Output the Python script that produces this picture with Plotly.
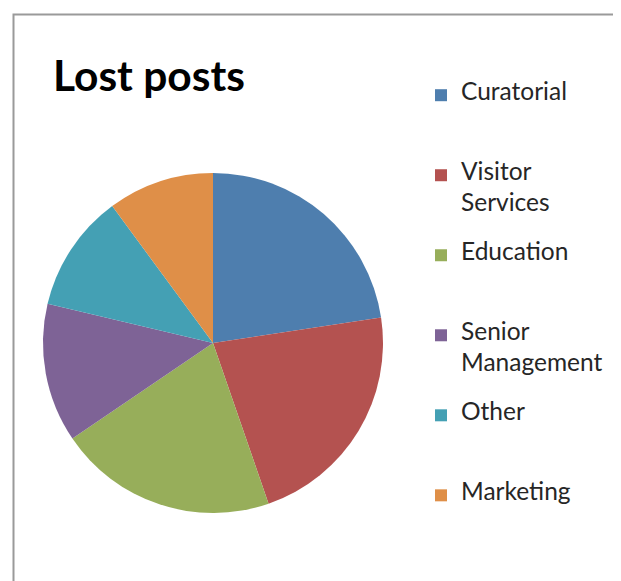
import plotly.graph_objects as go

categories = ["Curatorial", "Visitor Services", "Education", "Senior Management", "Other", "Marketing"]
legend_lines = [["Curatorial"], ["Visitor", "Services"], ["Education"], ["Senior", "Management"], ["Other"], ["Marketing"]]
values = [22.6, 22.1, 20.8, 13.2, 11.2, 10.1]
colors = ["#4E7EAE", "#B45250", "#97AE5A", "#7E6396", "#44A0B4", "#DF8F48"]
title_text = "Lost posts"

OFF = 8                      # page body margin
W, H = 621 - OFF, 581 - OFF  # figure size
FONT = "Lato"
VIS = 24.5    # visible legend text size
BASE = 11.85  # base legend font size (controls line spacing)


def px(x):
    return (x - OFF) / W


def py(y):
    return 1 - (y - OFF) / H


def legend_label(lines):
    parts = []
    for ln in lines:
        parts.append(f"<span style='font-size:{VIS}px'>{ln}</span>")
        parts.append(" ")
    while len(parts) < 5:
        parts.append(" ")
    return "<br>".join(parts[:5])


labels = [legend_label(l) for l in legend_lines]

cx, cy, r = 213, 343, 170

fig = go.Figure(go.Pie(
    labels=labels,
    values=values,
    sort=False,
    direction="clockwise",
    rotation=0,
    marker=dict(colors=colors, line=dict(width=0)),
    textinfo="none",
    hovertext=categories,
    hoverinfo="text+percent",
    domain=dict(x=[px(cx - r), px(cx + r)], y=[py(cy + r), py(cy - r)]),
))

fig.update_layout(
    width=W, height=H,
    margin=dict(l=0, r=0, t=0, b=0),
    paper_bgcolor="white",
    font=dict(family=FONT, color="#000000"),
    title=dict(text=f"<b>{title_text}</b>", font=dict(family=FONT, size=42.5, color="#000000"),
               x=px(53), xanchor="left", xref="paper", y=py(76), yanchor="middle", yref="paper"),
    legend=dict(x=px(421), xanchor="left", y=py(81), yanchor="top", valign="top",
                font=dict(family=FONT, size=BASE, color="#262626"), bgcolor="rgba(0,0,0,0)",
                itemclick=False, itemdoubleclick=False),
    showlegend=True,
    shapes=[dict(type="rect", xref="paper", yref="paper", x0=px(13.5), y0=py(14.5), x1=1.05, y1=-0.05,
                 line=dict(color="#9A9A9A", width=2))],
)

fig.write_html("out.html")
